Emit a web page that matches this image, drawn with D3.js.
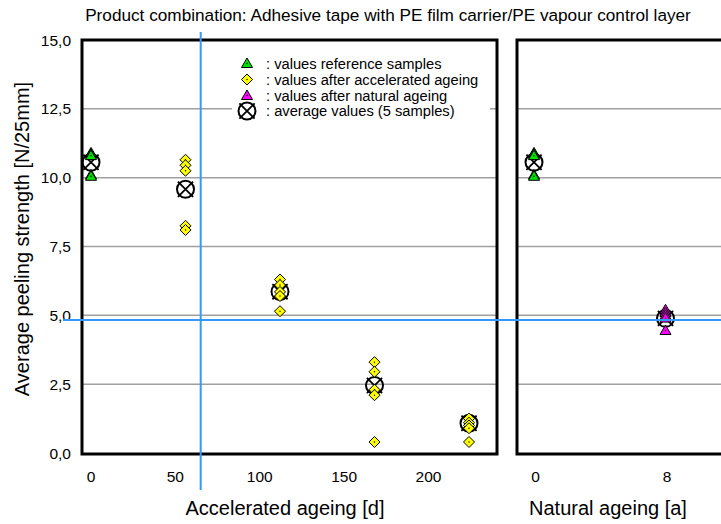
<!DOCTYPE html>
<html><head><meta charset="utf-8">
<script src="https://cdn.jsdelivr.net/npm/d3@7"></script>
<style>
html,body{margin:0;padding:0;background:#fff;}
svg{display:block;font-family:"Liberation Sans",Arial,sans-serif;}
</style></head>
<body>
<svg id="chart" width="721" height="524"></svg>
<script>
// ---- data ----
const titleText = "Product combination: Adhesive tape with PE film carrier/PE vapour control layer";
const yTicks = [0, 2.5, 5, 7.5, 10, 12.5, 15];
const accelTicks = [0, 50, 100, 150, 200];
const naturalTicks = [0, 8];
const refValues = [10.9, 10.85, 10.8, 10.1, 10.05];        // reference samples (day 0 / year 0)
const accelDays = [56, 112, 168, 224];
const accelValues = [
  [10.65, 10.45, 10.25, 8.25, 8.1],
  [6.3, 6.1, 5.85, 5.7, 5.15],
  [3.3, 2.95, 2.3, 2.1, 0.4],
  [1.25, 1.1, 1.0, 0.9, 0.4]
];
const accelAvgDays = [0, 56, 112, 168, 224];
const accelAvgValues = [10.56, 9.58, 5.86, 2.45, 1.08];
const naturalYear = 8;
const naturalValues = [5.2, 5.1, 5.0, 4.9, 4.45];
const naturalAvgYears = [0, 8];
const naturalAvgValues = [10.56, 4.89];
const markerDay = 65;          // vertical blue line
const thresholdValue = 4.83;   // horizontal blue line
const legendLabels = [": values reference samples", ": values after accelerated ageing", ": values after natural ageing", ": average values (5 samples)"];

// ---- drawing ----
(function () {
const svg = d3.select("#chart");
const plotTop = 40, plotBottom = 454;
const y = d3.scaleLinear().domain([0, 15]).range([453, 40]);
const xL = d3.scaleLinear().domain([0, 224]).range([91, 469]);
const xR = d3.scaleLinear().domain([0, 8]).range([534, 665.5]);
const panelL = {x0: 82, x1: 497}, panelR = {x0: 517, x1: 740};
const fmt = v => d3.format(".1f")(v).replace(".", ",");

// gridlines
[panelL, panelR].forEach(p => {
  svg.append("g").selectAll("line").data(yTicks.filter(t => t > 0 && t < 15)).join("line")
    .attr("x1", p.x0).attr("x2", p.x1).attr("y1", d => y(d)).attr("y2", d => y(d))
    .attr("stroke", "#a0a0a0").attr("stroke-width", 1.5);
});

// legend background
svg.append("rect").attr("x", 232).attr("y", 52).attr("width", 258).attr("height", 68).attr("fill", "#fff");

// frames
svg.append("rect").attr("x", panelL.x0).attr("y", plotTop).attr("width", panelL.x1 - panelL.x0).attr("height", plotBottom - plotTop)
  .attr("fill", "none").attr("stroke", "#000").attr("stroke-width", 3);
svg.append("rect").attr("x", panelR.x0).attr("y", plotTop).attr("width", panelR.x1 - panelR.x0).attr("height", plotBottom - plotTop)
  .attr("fill", "none").attr("stroke", "#000").attr("stroke-width", 3);

// y tick labels
svg.append("g").selectAll("text").data(yTicks).join("text")
  .attr("x", 71).attr("y", d => y(d)).attr("dy", "0.36em").attr("text-anchor", "end")
  .attr("font-size", 15.5).text(fmt);

// x tick labels
svg.append("g").selectAll("text").data(accelTicks).join("text")
  .attr("x", d => xL(d)).attr("y", 482).attr("text-anchor", "middle").attr("font-size", 15.5).text(d => d);
svg.append("g").selectAll("text").data(naturalTicks).join("text")
  .attr("x", d => xR(d) + 1.5).attr("y", 482).attr("text-anchor", "middle").attr("font-size", 15.5).text(d => d);

// axis titles
svg.append("text").attr("x", 285).attr("y", 515).attr("text-anchor", "middle").attr("font-size", 20).text("Accelerated ageing [d]");
svg.append("text").attr("x", 608).attr("y", 515).attr("text-anchor", "middle").attr("font-size", 20).text("Natural ageing [a]");
svg.append("text").attr("transform", "translate(29,239) rotate(-90)").attr("text-anchor", "middle").attr("font-size", 20)
  .text("Average peeling strength [N/25mm]");
svg.append("text").attr("x", 388).attr("y", 21).attr("text-anchor", "middle").attr("font-size", 17.2).text(titleText);

// marker painters
function triangle(g, cx, cy, fill) {
  g.append("path").attr("d", `M${cx},${cy - 5.5}L${cx + 5.5},${cy + 4}L${cx - 5.5},${cy + 4}Z`)
    .attr("fill", fill).attr("stroke", "#000").attr("stroke-width", 1);
  g.append("circle").attr("cx", cx).attr("cy", cy).attr("r", 0.7).attr("fill", "#000");
}
function diamond(g, cx, cy) {
  g.append("path").attr("d", `M${cx},${cy - 5.5}L${cx + 5.5},${cy}L${cx},${cy + 5.5}L${cx - 5.5},${cy}Z`)
    .attr("fill", "#ffff00").attr("stroke", "#000").attr("stroke-width", 1);
  g.append("circle").attr("cx", cx).attr("cy", cy).attr("r", 0.7).attr("fill", "#000");
}
function avgMark(g, cx, cy) {
  g.append("circle").attr("cx", cx).attr("cy", cy).attr("r", 8.5).attr("fill", "none").attr("stroke", "#000").attr("stroke-width", 2);
  const d = 7.6;
  g.append("path").attr("d", `M${cx - d},${cy - d}L${cx + d},${cy + d}M${cx - d},${cy + d}L${cx + d},${cy - d}`)
    .attr("stroke", "#000").attr("stroke-width", 1.8);
}

const gm = svg.append("g");
accelAvgDays.forEach((d, i) => avgMark(gm, xL(d), y(accelAvgValues[i])));
naturalAvgYears.forEach((d, i) => avgMark(gm, xR(d), y(naturalAvgValues[i])));
refValues.forEach(v => triangle(gm, xL(0), y(v), "#00e000"));
refValues.forEach(v => triangle(gm, xR(0), y(v), "#00e000"));
accelDays.forEach((d, i) => accelValues[i].forEach(v => diamond(gm, xL(d), y(v))));
naturalValues.forEach(v => triangle(gm, xR(naturalYear), y(v), "#ff00ff"));

// blue lines
svg.append("line").attr("x1", xL(markerDay)).attr("x2", xL(markerDay)).attr("y1", 32).attr("y2", 490)
  .attr("stroke", "#3399ff").attr("stroke-width", 2);
svg.append("line").attr("x1", 63).attr("x2", 721).attr("y1", y(thresholdValue)).attr("y2", y(thresholdValue))
  .attr("stroke", "#3399ff").attr("stroke-width", 2);

// legend
const lg = svg.append("g");
const rows = [63.5, 79.5, 95.5, 111];
triangle(lg, 247, rows[0], "#00e000");
diamond(lg, 247, rows[1]);
triangle(lg, 247, rows[2], "#ff00ff");
avgMark(lg, 247, rows[3]);
lg.selectAll("text").data(legendLabels).join("text")
  .attr("x", 266).attr("y", (d, i) => rows[i]).attr("dy", "0.36em").attr("font-size", 14.7).text(d => d);
})();
</script>
</body></html>
